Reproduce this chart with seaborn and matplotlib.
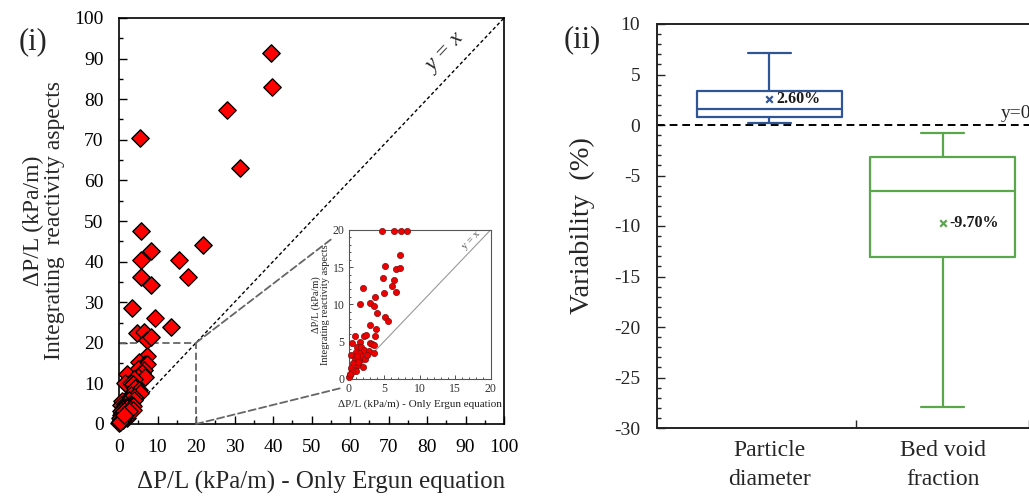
import numpy as np
import pandas as pd
import matplotlib
matplotlib.use("Agg")
import matplotlib.pyplot as plt
from matplotlib import font_manager
from matplotlib.patches import ConnectionPatch
from matplotlib.ticker import MultipleLocator
import seaborn as sns

# ---- Panel (i): pressure drop, Ergun only vs. with reactivity aspects (kPa/m)
ergun_only = [
    39.5, 39.7, 28.0, 5.5, 31.4, 5.8, 8.3, 21.7, 5.8, 15.5, 5.8, 17.8, 8.3, 3.5,
    9.4, 13.4, 4.7, 6.45, 7.4, 8.2,
    7.2, 5.2, 6.7, 7.2, 4.9, 6.4, 6.1, 2.1, 5.0, 6.7, 3.8, 1.6, 3.0, 3.6, 4.05,
    5.2, 5.5, 3.0, 3.9, 0.85, 2.2, 2.5, 3.8, 0.47, 1.65, 3.06, 3.3, 3.6, 1.2,
    1.8, 1.1, 1.6, 0.4, 0.85, 1.55, 0.6, 1.3, 0.3, 0.85, 0.15, 0.02, 1.7, 2.2,
    2.35, 1.2, 2.0, 2.9, 3.6, 1.0, 0.5, 0.2, 2.6, 1.4,
]
with_reactivity = [
    91.4, 82.9, 77.4, 70.4, 63.0, 47.6, 42.7, 44.0, 40.5, 40.5, 36.3, 36.3, 34.2,
    28.6, 26.1, 23.9, 22.5, 22.7, 20.7, 21.4,
    16.7, 15.2, 14.7, 14.9, 13.6, 13.3, 12.5, 12.2, 11.5, 11.6, 11.0, 10.1, 10.2,
    9.8, 8.85, 8.3, 7.7, 7.2, 6.7, 5.7, 5.8, 5.9, 5.8, 4.75, 4.9, 4.8, 4.6, 4.5,
    4.3, 4.2, 3.6, 3.4, 3.2, 2.7, 2.5, 2.1, 1.8, 1.4, 1.2, 0.5, 0.2, 3.0, 3.9,
    2.7, 3.1, 1.6, 3.7, 3.5, 1.1, 0.9, 0.6, 3.2, 2.3,
]
zoom_limit = 20  # extent of the magnified region

# ---- Panel (ii): variability of the two bed parameters (%)
categories = ["Particle\ndiameter", "Bed void\nfraction"]
# five-number summaries: lower whisker, Q1, median, Q3, upper whisker
particle_summary = [0.2, 0.76, 1.55, 3.33, 7.13]
void_summary = [-27.9, -13.07, -6.57, -3.17, -0.76]
mean_values = [2.60, -9.70]
box_colors = ["#2f5597", "#5aa64a"]

sns.set_theme(style="white")

# Times-like serif face
serif_name = "DejaVu Serif"
for path in font_manager.findSystemFonts():
    base = path.split("/")[-1]
    if base.startswith("LiberationSerif"):
        font_manager.fontManager.addfont(path)
        serif_name = "Liberation Serif"
plt.rcParams["font.family"] = [serif_name, "DejaVu Serif"]
plt.rcParams["mathtext.fontset"] = "stix"
plt.rcParams["axes.unicode_minus"] = False

W, H = 1029, 496
fig = plt.figure(figsize=(W / 100, H / 100), dpi=100)

# ------------------------------------------------------------------ panel (i)
ax = fig.add_axes([119 / W, 1 - 424 / H, 385 / W, 406 / H])
df = pd.DataFrame({"x": ergun_only, "y": with_reactivity})
ax.axline((0, 0), slope=1, color="black", lw=1.0, ls=(0, (2.5, 1.8)), zorder=1)
ax.plot([0, zoom_limit, zoom_limit], [zoom_limit, zoom_limit, 0],
        color="#666666", lw=1.3, ls=(0, (4, 2)), zorder=1)
sns.scatterplot(data=df, x="x", y="y", marker="D", s=78, color="#ff0000",
                edgecolor="black", linewidth=1.0, ax=ax, zorder=3, clip_on=False)
ax.set_xlim(0, 100)
ax.set_ylim(0, 100)
ax.xaxis.set_major_locator(MultipleLocator(10))
ax.xaxis.set_minor_locator(MultipleLocator(5))
ax.yaxis.set_major_locator(MultipleLocator(10))
ax.yaxis.set_minor_locator(MultipleLocator(5))
ax.tick_params(which="both", direction="in", bottom=True, left=True,
               labelsize=14, colors="black", width=1.0)
ax.tick_params(which="major", length=6, pad=11)
ax.tick_params(which="minor", length=3)
for sp in ax.spines.values():
    sp.set_color("black")
    sp.set_linewidth(1.2)
ax.set_xlabel("ΔP/L (kPa/m) - Only Ergun equation", fontsize=18, labelpad=8)
ax.xaxis.set_label_coords(0.525, -0.115)
ax.xaxis.label.set_va("top")
ax.set_ylabel("ΔP/L (kPa/m)\nIntegrating  reactivity aspects", fontsize=17,
              linespacing=0.95, labelpad=7)
ax.text(85, 91.5, "y = x", rotation=46.5, fontsize=16, style="italic",
        ha="center", va="center")
fig.text(33 / W, 1 - 42 / H, "(i)", fontsize=22, ha="center", va="center")

# inset: magnified 0-20 region; points just above it are pinned to its top edge
axin = fig.add_axes([348.5 / W, 1 - 378.7 / H, 142 / W, 148.7 / H])
axin.plot([0, zoom_limit], [0, zoom_limit], color="#999999", lw=0.8, zorder=1)
near = (df["x"] <= zoom_limit) & (df["y"] <= 1.15 * zoom_limit)
inset_df = df[near].assign(y=lambda d: d["y"].clip(upper=zoom_limit - 0.2))
sns.scatterplot(data=inset_df, x="x", y="y", marker="o", s=20, color="#ee0000",
                edgecolor="#7a1010", linewidth=0.5, ax=axin, zorder=3,
                clip_on=False)
axin.set_xlim(0, zoom_limit)
axin.set_ylim(0, zoom_limit)
axin.xaxis.set_major_locator(MultipleLocator(5))
axin.yaxis.set_major_locator(MultipleLocator(5))
axin.xaxis.set_minor_locator(MultipleLocator(1))
axin.yaxis.set_minor_locator(MultipleLocator(1))
axin.tick_params(which="both", direction="in", bottom=True, left=True,
                 labelsize=8.5, colors="#333333", width=0.6)
axin.tick_params(which="major", length=3, pad=3)
axin.tick_params(which="minor", length=1.5)
for sp in axin.spines.values():
    sp.set_color("#555555")
    sp.set_linewidth(0.8)
axin.set_xlabel("ΔP/L (kPa/m) - Only Ergun equation", fontsize=8,
                labelpad=3, color="#222222")
axin.set_ylabel("ΔP/L (kPa/m)\nIntegrating reactivity aspects", fontsize=7.5,
                linespacing=1.0, labelpad=2, color="#222222")
axin.text(17.3, 18.6, "y = x", rotation=46, fontsize=7.5, color="#555555",
          ha="center", va="center")

for xy_main, xy_inset in [((zoom_limit, zoom_limit), (-0.105, 0.95)),
                          ((zoom_limit, 0), (-0.04, -0.06))]:
    con = ConnectionPatch(xyA=xy_main, coordsA=ax.transData,
                          xyB=xy_inset, coordsB=axin.transAxes,
                          color="#666666", lw=1.3, ls=(0, (4, 2)))
    fig.add_artist(con)

# ------------------------------------------------------------------ panel (ii)
ax2 = fig.add_axes([657 / W, 1 - 428 / H, 398 / W, 404 / H])
box_df = pd.DataFrame({
    "param": np.repeat(categories, 5),
    "value": particle_summary + void_summary,
})
ax2.axhline(0, color="black", lw=1.4, ls=(0, (4, 2.5)), zorder=1)
sns.boxplot(data=box_df, x="param", y="value", hue="param", palette=box_colors,
            fill=False, width=0.84, whis=(0, 100), linewidth=1.6,
            legend=False, ax=ax2, capwidths=0.25)
positions = np.arange(len(categories))
for pos, m, c in zip(positions, mean_values, box_colors):
    ax2.scatter(pos, m, marker="x", s=22, color=c, linewidths=1.6, zorder=4)
    ax2.annotate(f"{m:.2f}%", (pos, m), xytext=(5, 0),
                 textcoords="offset points", va="center", ha="left",
                 fontsize=11.5, fontweight="bold", color="#1a1a1a")
ax2.text(1.335, 0.25, "y=0", fontsize=14, ha="left", va="bottom")
ax2.set_xlim(-0.65, 1.65)
ax2.set_ylim(-30, 10)
ax2.yaxis.set_major_locator(MultipleLocator(5))
ax2.yaxis.set_minor_locator(MultipleLocator(1))
ax2.set_xticks([0.5, 1.5])
ax2.set_xticklabels(["", ""])
ax2.set_xticks(positions, minor=True)
ax2.set_xticklabels(categories, minor=True)
ax2.tick_params(axis="x", which="minor", length=0, labelsize=17, pad=9)
ax2.tick_params(axis="x", which="major", direction="in", length=6, width=1.0,
                bottom=True)
ax2.tick_params(axis="y", which="both", direction="in", left=True,
                labelsize=14, width=1.0)
ax2.tick_params(axis="y", which="major", length=6, pad=12)
ax2.tick_params(axis="y", which="minor", length=3)
for lab in ax2.get_xticklabels(minor=True):
    lab.set_linespacing(1.45)
for sp in ax2.spines.values():
    sp.set_color("#222222")
    sp.set_linewidth(1.4)
ax2.set_xlabel("")
ax2.set_ylabel("Variability  (%)", fontsize=20.5, labelpad=14)
fig.text(582 / W, 1 - 40 / H, "(ii)", fontsize=22, ha="center", va="center")

fig.savefig("out.png", dpi=100)
